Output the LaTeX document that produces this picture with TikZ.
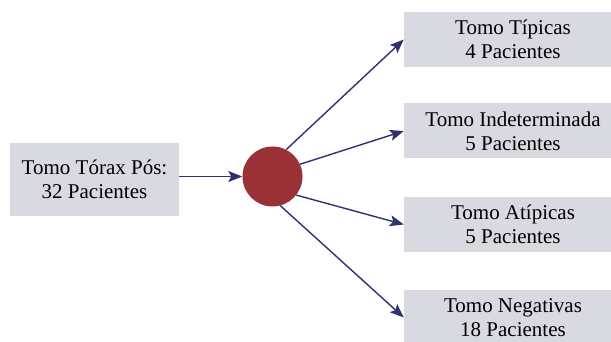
\documentclass[tikz,border=0pt]{standalone}
\usepackage{fontspec}
\setmainfont{Liberation Serif}
\usetikzlibrary{arrows.meta}
\definecolor{boxfill}{HTML}{D8D9E1}
\definecolor{navy}{HTML}{2F3170}
\definecolor{dotred}{HTML}{9A3136}
\begin{document}
\begin{tikzpicture}[x=1pt,y=-1pt,
  box/.style={fill=boxfill, draw=none, inner sep=0pt, align=center,
    font=\fontsize{21}{24}\selectfont},
  conn/.style={draw=navy, line width=1.4pt,
    -{Stealth[length=14pt,width=11pt,inset=3pt]}}]
\useasboundingbox (0,0) rectangle (611,342);
\node[box, minimum width=169pt, minimum height=73pt] (src) at (94.5,179.5) {Tomo Tórax Pós:\\32 Pacientes};
\node[circle, fill=dotred, minimum size=60pt, inner sep=0pt] (hub) at (272.5,176.5) {};
\node[box, minimum width=218pt, minimum height=55pt] (b1) at (513,39.5) {Tomo Típicas\\4 Pacientes};
\node[box, minimum width=218pt, minimum height=55pt] (b2) at (513,131) {Tomo Indeterminada\\5 Pacientes};
\node[box, minimum width=218pt, minimum height=55pt] (b3) at (513,224.5) {Tomo Atípicas\\5 Pacientes};
\node[box, minimum width=218pt, minimum height=55pt] (b4) at (513,317.5) {Tomo Negativas\\18 Pacientes};
\draw[conn] (src.east |- hub) -- (hub);
\draw[conn] (hub.63) -- (b1.west);
\draw[conn] (hub.24) -- (b2.west);
\draw[conn] (hub.-38) -- (b3.west);
\draw[conn] (hub.-75) -- (b4.west);
\end{tikzpicture}
\end{document}
